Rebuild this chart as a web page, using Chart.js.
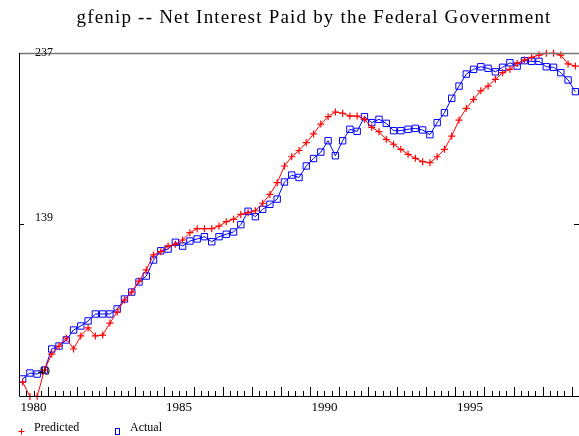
<!DOCTYPE html>
<html>
<head>
<meta charset="utf-8">
<title>gfenip -- Net Interest Paid by the Federal Government</title>
<script src="https://cdn.jsdelivr.net/npm/chart.js@4/dist/chart.umd.min.js"></script>
<style>
  html, body { margin: 0; padding: 0; background: #fff; }
  #wrap { width: 579px; height: 436px; position: relative; }
</style>
</head>
<body>
<div id="wrap"><canvas id="chart" width="579" height="436"></canvas></div>
<script>
// ---------- DATA ----------
const quarterLabels = [
  '1980Q1','1980Q2','1980Q3','1980Q4','1981Q1','1981Q2','1981Q3','1981Q4',
  '1982Q1','1982Q2','1982Q3','1982Q4','1983Q1','1983Q2','1983Q3','1983Q4',
  '1984Q1','1984Q2','1984Q3','1984Q4','1985Q1','1985Q2','1985Q3','1985Q4',
  '1986Q1','1986Q2','1986Q3','1986Q4','1987Q1','1987Q2','1987Q3','1987Q4',
  '1988Q1','1988Q2','1988Q3','1988Q4','1989Q1','1989Q2','1989Q3','1989Q4',
  '1990Q1','1990Q2','1990Q3','1990Q4','1991Q1','1991Q2','1991Q3','1991Q4',
  '1992Q1','1992Q2','1992Q3','1992Q4','1993Q1','1993Q2','1993Q3','1993Q4',
  '1994Q1','1994Q2','1994Q3','1994Q4','1995Q1','1995Q2','1995Q3','1995Q4',
  '1996Q1','1996Q2','1996Q3','1996Q4','1997Q1','1997Q2','1997Q3','1997Q4',
  '1998Q1','1998Q2','1998Q3','1998Q4','1999Q1'
];

const predicted = [
  48.0, 39.7, 39.8, 54.9, 64.1, 68.7, 73.3, 67.0, 74.5, 79.1, 74.5, 75.0,
  81.9, 88.2, 95.1, 99.7, 106.0, 112.4, 121.0, 122.9, 126.1, 127.1, 129.6, 133.8,
  136.1, 136.1, 136.1, 137.6, 140.1, 141.5, 144.3, 145.3, 146.4, 150.7, 155.8, 162.5,
  172.1, 177.4, 181.0, 185.5, 190.5, 196.2, 200.4, 203.1, 202.4, 200.8, 200.8, 198.9,
  194.3, 191.8, 187.4, 184.6, 181.7, 178.8, 176.5, 174.6, 174.0, 177.4, 181.7, 189.3,
  198.5, 205.2, 210.4, 215.3, 218.0, 221.9, 225.7, 227.6, 231.0, 233.0, 234.5, 235.8,
  236.8, 236.8, 235.8, 230.7, 229.5
];

const actual = [
  49.8, 53.2, 52.6, 54.9, 67.0, 68.7, 72.2, 77.9, 80.2, 83.1, 87.1, 87.1,
  87.1, 90.0, 95.7, 99.7, 105.5, 108.9, 118.1, 123.4, 124.4, 128.3, 126.1, 129.0,
  130.2, 131.5, 128.6, 131.5, 132.9, 134.2, 138.4, 146.1, 143.0, 147.2, 150.1, 153.1,
  162.9, 166.9, 165.5, 172.1, 176.4, 180.1, 186.6, 178.0, 186.6, 193.2, 192.0, 200.4,
  197.0, 198.9, 196.6, 192.4, 192.4, 193.2, 193.7, 192.8, 190.1, 197.0, 202.7, 211.0,
  218.0, 224.9, 227.6, 229.1, 228.2, 226.2, 228.8, 231.4, 229.5, 232.6, 232.2, 232.2,
  229.1, 228.8, 225.7, 221.5, 214.8
];

const yearTickLabels = ['1980', '1985', '1990', '1995'];
const yTickValues = [237, 139, 40];
const yLabelShift = [0, -6, -24];

const chartTitle = 'gfenip -- Net Interest Paid by the Federal Government';
const serif = "'Liberation Serif', 'Times New Roman', serif";

// ---------- AXES / TITLE / LEGEND PLUGIN ----------
const framePlugin = {
  id: 'frame',
  afterDraw(chart) {
    const ctx = chart.ctx;
    const xs = chart.scales.x;
    const ys = chart.scales.y;
    const a = chart.chartArea;
    ctx.save();

    // top border (grey)
    ctx.strokeStyle = '#777';
    ctx.lineWidth = 1.5;
    ctx.beginPath();
    ctx.moveTo(a.left, a.top + 0.5);
    ctx.lineTo(a.right, a.top + 0.5);
    ctx.stroke();

    // left and bottom axes
    ctx.strokeStyle = '#000';
    ctx.lineWidth = 1;
    ctx.beginPath();
    ctx.moveTo(a.left + 0.5, a.top);
    ctx.lineTo(a.left + 0.5, a.bottom + 0.5);
    ctx.lineTo(a.right, a.bottom + 0.5);
    ctx.stroke();

    // quarter ticks, longer at each year
    const step = xs.getPixelForValue(1) - xs.getPixelForValue(0);
    ctx.beginPath();
    for (let i = 0; i <= quarterLabels.length; i++) {
      const px = Math.round(xs.getPixelForValue(i) - step / 2) + 0.5;
      const isYear = i < quarterLabels.length && quarterLabels[i].endsWith('Q1');
      const len = isYear ? 9 : 5;
      ctx.moveTo(px, a.bottom);
      ctx.lineTo(px, a.bottom - len);
    }
    // y tick at 139 on both sides
    const yMid = Math.round(ys.getPixelForValue(yTickValues[1])) + 0.5;
    ctx.moveTo(a.left, yMid);
    ctx.lineTo(a.left + 5, yMid);
    ctx.moveTo(a.right - 5, yMid);
    ctx.lineTo(a.right, yMid);
    ctx.stroke();

    // x labels, centred on the year
    ctx.fillStyle = '#000';
    ctx.font = '13px ' + serif;
    ctx.textAlign = 'center';
    ctx.textBaseline = 'middle';
    yearTickLabels.forEach(yr => {
      const idx = quarterLabels.indexOf(yr + 'Q1');
      const px = (xs.getPixelForValue(idx + 1) + xs.getPixelForValue(idx + 2)) / 2;
      ctx.fillText(yr, px, a.bottom + 12);
    });

    // y labels inside the plot
    ctx.font = '12px ' + serif;
    yTickValues.forEach((v, k) => {
      ctx.fillText(String(v), a.left + 25, ys.getPixelForValue(v) + yLabelShift[k]);
    });

    // title
    ctx.font = '19px ' + serif;
    ctx.letterSpacing = '1.2px';
    ctx.fillText(chartTitle, 314, 18);
    ctx.letterSpacing = '0px';

    // legend
    ctx.font = '12px ' + serif;
    ctx.textAlign = 'left';
    ctx.strokeStyle = '#ff0000';
    ctx.beginPath();
    ctx.moveTo(18.5, 431.5); ctx.lineTo(24.5, 431.5);
    ctx.moveTo(21.5, 428.5); ctx.lineTo(21.5, 434.5);
    ctx.stroke();
    ctx.fillText('Predicted', 34, 428);
    ctx.strokeStyle = '#0000ff';
    ctx.strokeRect(115.5, 428.5, 4, 6);
    ctx.fillText('Actual', 130, 428);

    ctx.restore();
  }
};

// ---------- CHART ----------
new Chart(document.getElementById('chart'), {
  type: 'line',
  data: {
    labels: quarterLabels,
    datasets: [
      {
        label: 'Predicted',
        data: predicted,
        borderColor: '#ff0000',
        borderWidth: 1,
        pointStyle: 'cross',
        pointRadius: 3.5,
        pointBorderColor: '#ff0000',
        pointBorderWidth: 1.2,
        tension: 0,
        fill: false,
        clip: false
      },
      {
        label: 'Actual',
        data: actual,
        borderColor: '#0000ff',
        borderWidth: 1,
        pointStyle: 'rect',
        pointRadius: 4.5,
        pointBorderColor: '#0000ff',
        pointBackgroundColor: 'rgba(0,0,0,0)',
        pointBorderWidth: 1,
        tension: 0,
        fill: false,
        clip: false
      }
    ]
  },
  options: {
    responsive: false,
    animation: false,
    devicePixelRatio: 1,
    layout: { autoPadding: false, padding: { left: 19, right: 0, top: 53, bottom: 40 } },
    plugins: {
      legend: { display: false },
      title: { display: false },
      tooltip: { enabled: false }
    },
    scales: {
      x: { type: 'category', offset: true, display: false },
      y: { min: 40, max: 237, display: false }
    }
  },
  plugins: [framePlugin]
});
</script>
</body>
</html>
